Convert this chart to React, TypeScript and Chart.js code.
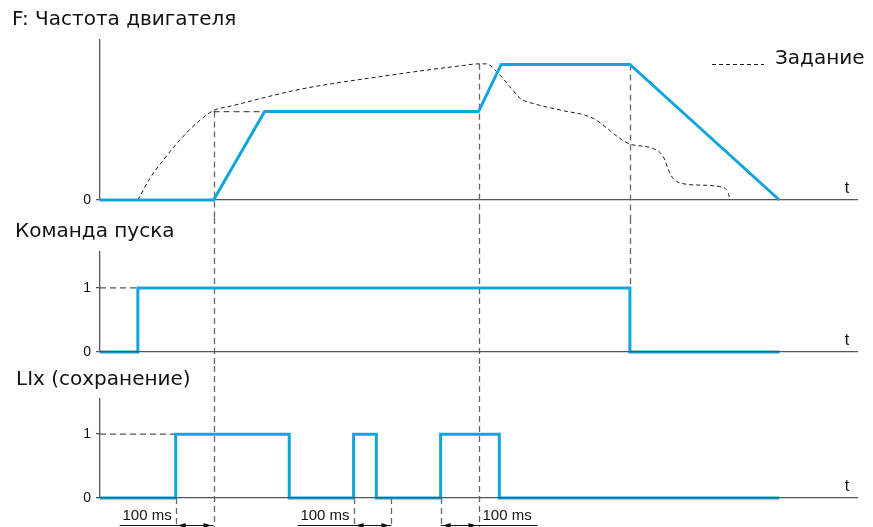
import React, { useEffect, useRef } from "react";
import { Chart, registerables } from "chart.js";

Chart.register(...registerables);

const FONT = "'Liberation Sans', Arial, Helvetica, sans-serif";
const TITLE_FONT = "'DejaVu Sans', 'Liberation Sans', Arial, sans-serif";
const BLUE = "#10a5dc";
const AXIS = "#555555";
const GUIDE = "#666666";
const TEXT = "#111111";

// time axis, ms
const T_MAX = 2000;

// Panel 1: F – motor frequency (Hz)
const freqTimes = [0, 300, 435, 1000, 1060, 1400, 1795];
const freqValues = [0, 0, 32.6, 32.6, 50, 50, 0];

// reference ("Задание")
const refTimes = [100, 132, 167, 211, 255, 300, 345, 528, 740, 960, 1000, 1020, 1048, 1083, 1110, 1144, 1215, 1303, 1374, 1400, 1461, 1488, 1506, 1523, 1585, 1638, 1660, 1664];
const refValues = [0, 8, 14.7, 22.1, 28.3, 33, 34.6, 40.8, 45.5, 49.6, 50.2, 50.2, 47.3, 41.8, 37.5, 35.6, 33.2, 30.1, 22.7, 20.6, 19, 16, 9.8, 6.8, 5.5, 4.9, 2.5, 0];

const freqProjTimes = [300, 435];
const freqProjValues = [32.6, 32.6];

// Panel 2: run command
const runTimes = [0, 100, 100, 1400, 1400, 1795];
const runValues = [0, 0, 1, 1, 0, 0];
const runProjTimes = [0, 100];
const runProjValues = [1, 1];

// Panel 3: LIx (memory)
const memTimes = [0, 200, 200, 500, 500, 670, 670, 730, 730, 900, 900, 1055, 1055, 1795];
const memValues = [0, 0, 1, 1, 0, 0, 1, 1, 0, 0, 1, 1, 0, 0];
const memProjTimes = [0, 200];
const memProjValues = [1, 1];

// 100 ms intervals
const dimStarts = [200, 670, 900];
const dimEnds = [300, 770, 1000];
const dimSides = ["left", "left", "right"];
const dimLabel = "100 ms";

const titles = ["F: Частота двигателя", "Команда пуска", "LIx (сохранение)"];
const refLabel = "Задание";
const axisLabel = "t";

const pts = (ts: number[], vs: number[]) => ts.map((t, i) => ({ x: t, y: vs[i] }));

type Guide = { t: number; from: number | "top"; to: number | "bottom" };

type Spec = {
  top: number;
  height: number;
  title: string;
  padLeft: number;
  titleTop: number;
  titleBottom: number;
  bottomPad: number;
  yMax: number;
  ticks: number[];
  datasets: any[];
  guides: Guide[];
  axisOnTop: boolean;
  legend?: boolean;
  dims?: boolean;
};

const blueLine = (label: string, data: any[]) => ({
  label,
  data,
  borderColor: BLUE,
  borderWidth: 3,
  pointRadius: 0,
  fill: false,
  tension: 0,
  clip: false,
  borderJoinStyle: "miter",
  order: 1,
});

const projLine = (data: any[]) => ({
  label: "",
  data,
  borderColor: AXIS,
  borderWidth: 1.2,
  borderDash: [6, 4],
  pointRadius: 0,
  fill: false,
  tension: 0,
  clip: false,
  order: 3,
});

const specs: Spec[] = [
  {
    top: 0,
    height: 218,
    title: titles[0],
    padLeft: 12,
    titleTop: 8,
    titleBottom: 8,
    bottomPad: 18,
    yMax: 59,
    ticks: [0],
    axisOnTop: false,
    legend: true,
    datasets: [
      {
        label: refLabel,
        data: pts(refTimes, refValues),
        borderColor: "#1a1a1a",
        borderWidth: 1,
        borderDash: [4, 3],
        pointRadius: 0,
        fill: false,
        cubicInterpolationMode: "monotone",
        clip: false,
        order: 2,
      },
      projLine(pts(freqProjTimes, freqProjValues)),
      blueLine("F", pts(freqTimes, freqValues)),
    ],
    guides: [
      { t: 300, from: 32.6, to: "bottom" },
      { t: 1000, from: 50.2, to: "bottom" },
      { t: 1400, from: 50, to: "bottom" },
    ],
  },
  {
    top: 218,
    height: 148,
    title: titles[1],
    padLeft: 15,
    titleTop: 2,
    titleBottom: 8,
    bottomPad: 14,
    yMax: 1.56,
    ticks: [0, 1],
    axisOnTop: true,
    datasets: [projLine(pts(runProjTimes, runProjValues)), blueLine("run", pts(runTimes, runValues))],
    guides: [
      { t: 300, from: "top", to: "bottom" },
      { t: 1000, from: "top", to: "bottom" },
      { t: 1400, from: "top", to: 1 },
    ],
  },
  {
    top: 366,
    height: 161,
    title: titles[2],
    padLeft: 16,
    titleTop: 2,
    titleBottom: 7,
    bottomPad: 29,
    yMax: 1.55,
    ticks: [0, 1],
    axisOnTop: true,
    dims: true,
    datasets: [projLine(pts(memProjTimes, memProjValues)), blueLine("LIx", pts(memTimes, memValues))],
    guides: [
      { t: 300, from: "top", to: "bottom" },
      { t: 1000, from: "top", to: "bottom" },
      ...dimStarts.map((t) => ({ t, from: 0, to: "bottom" } as Guide)),
      { t: 770, from: 0, to: "bottom" },
    ],
  },
];

function makePlugin(spec: Spec) {
  return {
    id: "timingDecor",
    beforeDatasetsDraw(chart: any) {
      const { ctx } = chart;
      const xs = chart.scales.x;
      const ys = chart.scales.y;
      ctx.save();
      ctx.strokeStyle = GUIDE;
      ctx.lineWidth = 1.3;
      ctx.setLineDash([6, 4]);
      for (const g of spec.guides) {
        const px = Math.round(xs.getPixelForValue(g.t)) + 0.5;
        const y1 = g.from === "top" ? 0 : ys.getPixelForValue(g.from);
        const y2 = g.to === "bottom" ? chart.height : ys.getPixelForValue(g.to);
        ctx.beginPath();
        ctx.moveTo(px, y1);
        ctx.lineTo(px, y2);
        ctx.stroke();
      }
      ctx.restore();
    },
    afterDraw(chart: any) {
      const { ctx, chartArea } = chart;
      const xs = chart.scales.x;
      ctx.save();
      // axis label t
      ctx.fillStyle = TEXT;
      ctx.font = `16px ${FONT}`;
      ctx.textAlign = "center";
      ctx.textBaseline = "middle";
      ctx.fillText(axisLabel, chartArea.right - 10, chartArea.bottom - 11);

      if (spec.legend) {
        const ds = chart.data.datasets[0];
        ctx.strokeStyle = ds.borderColor;
        ctx.lineWidth = 1;
        ctx.setLineDash([4, 3]);
        ctx.beginPath();
        ctx.moveTo(712, 64.5);
        ctx.lineTo(764, 64.5);
        ctx.stroke();
        ctx.setLineDash([]);
        ctx.font = `20px ${TITLE_FONT}`;
        ctx.textAlign = "left";
        ctx.fillText(ds.label, 775, 59);
      }

      if (spec.dims) {
        const y = chartArea.bottom + 27.5;
        ctx.strokeStyle = "#111";
        ctx.fillStyle = "#111";
        ctx.lineWidth = 1;
        ctx.setLineDash([]);
        ctx.font = `15px ${FONT}`;
        ctx.textBaseline = "middle";
        dimStarts.forEach((s, i) => {
          const xa = xs.getPixelForValue(s);
          const xb = xs.getPixelForValue(dimEnds[i]);
          const left = dimSides[i] === "left";
          ctx.beginPath();
          if (left) {
            ctx.moveTo(xa - 56, y);
            ctx.lineTo(xb, y);
          } else {
            ctx.moveTo(xa, y);
            ctx.lineTo(xb + 59, y);
          }
          ctx.stroke();
          // arrowheads pointing outward
          ctx.beginPath();
          ctx.moveTo(xa + 2, y);
          ctx.lineTo(xa + 10, y - 2.5);
          ctx.lineTo(xa + 10, y + 2.5);
          ctx.closePath();
          ctx.fill();
          ctx.beginPath();
          ctx.moveTo(xb - 2, y);
          ctx.lineTo(xb - 10, y - 2.5);
          ctx.lineTo(xb - 10, y + 2.5);
          ctx.closePath();
          ctx.fill();
          ctx.textAlign = left ? "right" : "left";
          ctx.fillText(dimLabel, left ? xa - 4 : xb + 4, chartArea.bottom + 18);
        });
      }
      ctx.restore();
    },
  };
}

function Panel({ spec }: { spec: Spec }) {
  const ref = useRef<HTMLCanvasElement>(null);
  useEffect(() => {
    const chart = new Chart(ref.current as HTMLCanvasElement, {
      type: "line",
      data: { datasets: spec.datasets },
      options: {
        animation: false,
        responsive: false,
        events: [],
        layout: { padding: { left: spec.padLeft, right: 16, top: 0, bottom: spec.bottomPad } },
        plugins: {
          legend: { display: false },
          tooltip: { enabled: false },
          title: {
            display: true,
            text: spec.title,
            align: "start",
            color: TEXT,
            font: { family: TITLE_FONT, size: 20, weight: "normal", lineHeight: 1.2 },
            padding: { top: spec.titleTop, bottom: spec.titleBottom },
          },
        },
        scales: {
          x: {
            type: "linear",
            min: 0,
            max: T_MAX,
            grid: { display: false, drawTicks: false },
            ticks: { display: false },
            border: { display: true, color: AXIS, width: 1.3, z: spec.axisOnTop ? 1 : 0 },
          },
          y: {
            type: "linear",
            min: 0,
            max: spec.yMax,
            afterBuildTicks: (s: any) => {
              s.ticks = spec.ticks.map((v) => ({ value: v }));
            },
            afterFit: (s: any) => {
              s.width = 100 - spec.padLeft;
            },
            grid: { display: true, drawOnChartArea: false, drawTicks: true, tickLength: 4, color: AXIS, lineWidth: 1.3 },
            border: { display: true, color: AXIS, width: 1.3 },
            ticks: { font: { family: FONT, size: 14 }, color: TEXT, padding: 5 },
          },
        },
      } as any,
      plugins: [makePlugin(spec)],
    });
    return () => chart.destroy();
  }, []);
  return (
    <div style={{ position: "absolute", left: 0, top: spec.top, width: 873, height: spec.height }}>
      <canvas ref={ref} width={873} height={spec.height} style={{ display: "block", width: 873, height: spec.height }} />
    </div>
  );
}

export default function App() {
  return (
    <div style={{ position: "absolute", left: 0, top: 0, width: 873, height: 527, background: "#fff" }}>
      {specs.map((s, i) => (
        <Panel key={i} spec={s} />
      ))}
    </div>
  );
}
